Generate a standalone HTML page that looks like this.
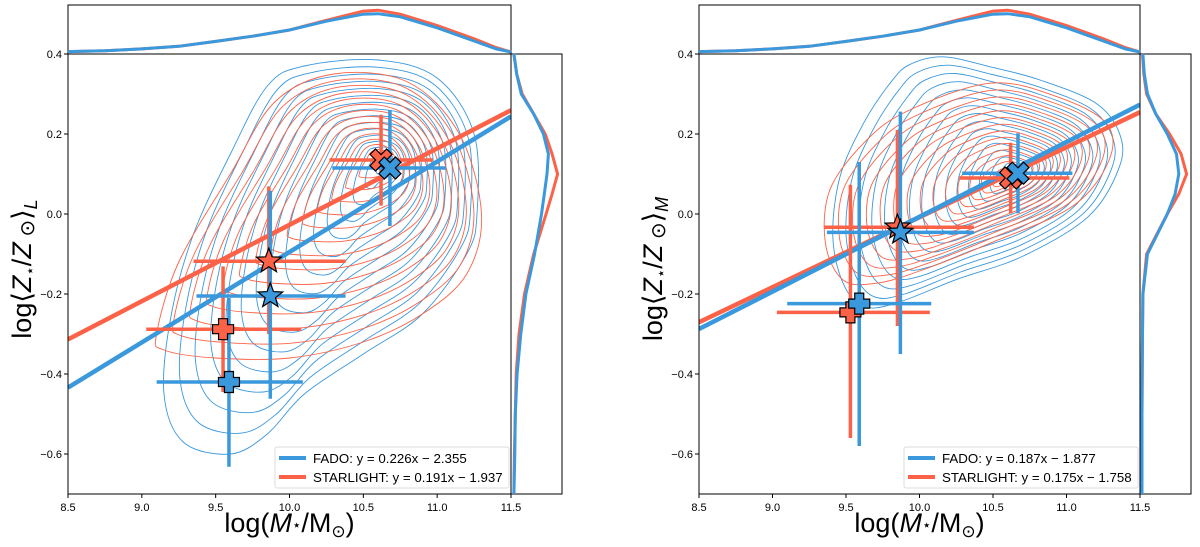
<!DOCTYPE html>
<html><head><meta charset="utf-8">
<style>
html,body{margin:0;padding:0;background:#fff;width:1200px;height:547px;overflow:hidden}
svg{display:block;font-family:"Liberation Sans","DejaVu Sans",sans-serif}
</style></head>
<body>
<svg id="chart" width="1200" height="547" viewBox="0 0 1200 547"></svg>
<script>
const BLUE="#3a98dc", RED="#fb6247";
const xTicks=[8.5,9.0,9.5,10.0,10.5,11.0,11.5];
const xTickLabels=["8.5","9.0","9.5","10.0","10.5","11.0","11.5"];
const yTicks=[0.4,0.2,0.0,-0.2,-0.4,-0.6];
const yTickLabels=["0.4","0.2","0.0","\u22120.2","\u22120.4","\u22120.6"];
const seriesNames=["FADO","STARLIGHT"];
// Left panel (light-weighted)
const L_fit_slope=[0.226,0.191];
const L_fit_icpt=[-2.355,-1.937];
const L_legend=["FADO: y = 0.226x \u2212 2.355","STARLIGHT: y = 0.191x \u2212 1.937"];
const L_fado_pts=[[10.68,0.115,10.29,11.06,-0.03,0.26,"x"],[9.87,-0.205,9.37,10.38,-0.462,0.058,"star"],[9.59,-0.42,9.10,10.09,-0.632,-0.21,"plus"]];
const L_star_pts=[[10.62,0.135,10.27,10.97,0.021,0.248,"x"],[9.86,-0.118,9.35,10.38,-0.30,0.069,"star"],[9.55,-0.288,9.03,10.08,-0.445,-0.131,"plus"]];
const L_fado_outer=[[9.6,-0.6],[9.28,-0.57],[9.15,-0.45],[9.2,-0.25],[9.35,-0.05],[9.6,0.15],[9.85,0.32],[10.1,0.37],[10.6,0.385],[11.0,0.34],[11.25,0.2],[11.27,0.0],[11.2,-0.1],[10.9,-0.25],[10.5,-0.35],[10.1,-0.45],[9.85,-0.55]];
const L_star_outer=[[9.1,-0.3],[9.25,-0.12],[9.6,0.1],[9.9,0.28],[10.3,0.35],[10.8,0.33],[11.15,0.2],[11.3,0.0],[11.2,-0.15],[10.9,-0.25],[10.5,-0.32],[10.0,-0.36],[9.5,-0.36],[9.15,-0.34]];
const L_fado_center=[10.65,0.13], L_star_center=[10.62,0.14];
const histX=[8.5,8.75,9.0,9.25,9.5,9.75,10.0,10.25,10.5,10.6,10.75,11.0,11.25,11.4,11.5];
const L_fado_histX=[0.01,0.03,0.07,0.13,0.24,0.36,0.5,0.7,0.86,0.87,0.8,0.55,0.25,0.07,0];
const L_star_histX=[0.01,0.03,0.07,0.13,0.24,0.36,0.5,0.72,0.93,0.95,0.86,0.6,0.3,0.1,0];
const histY=[0.4,0.35,0.3,0.25,0.2,0.15,0.1,0.05,0.0,-0.1,-0.2,-0.3,-0.4,-0.5,-0.6,-0.7];
const L_fado_histY=[0.02,0.08,0.18,0.45,0.66,0.77,0.74,0.68,0.62,0.47,0.28,0.17,0.09,0.05,0.04,0.02];
const L_star_histY=[0.02,0.08,0.2,0.45,0.7,0.85,0.97,0.85,0.72,0.45,0.25,0.13,0.07,0.05,0.03,0.02];
// Right panel (mass-weighted)
const R_fit_slope=[0.187,0.175];
const R_fit_icpt=[-1.877,-1.758];
const R_legend=["FADO: y = 0.187x \u2212 1.877","STARLIGHT: y = 0.175x \u2212 1.758"];
const R_fado_pts=[[10.67,0.102,10.29,11.04,0.002,0.202,"x"],[9.87,-0.046,9.37,10.37,-0.35,0.256,"star"],[9.59,-0.224,9.10,10.08,-0.58,0.13,"plus"]];
const R_star_pts=[[10.62,0.09,10.27,11.02,0.002,0.178,"x"],[9.85,-0.033,9.35,10.37,-0.28,0.21,"star"],[9.53,-0.246,9.03,10.07,-0.56,0.073,"plus"]];
const R_fado_outer=[[9.93,0.373],[9.8,0.327],[9.62,0.227],[9.46,0.094],[9.41,-0.056],[9.48,-0.173],[9.62,-0.231],[9.84,-0.223],[10.25,-0.164],[10.7,-0.106],[11.15,-0.006],[11.36,0.118],[11.36,0.202],[11.2,0.277],[10.82,0.335],[10.48,0.368],[10.16,0.393]];
const R_star_outer=[[9.36,-0.073],[9.39,0.06],[9.62,0.177],[9.91,0.256],[10.48,0.327],[10.93,0.294],[11.27,0.227],[11.29,0.135],[11.04,0.019],[10.48,-0.073],[10.02,-0.14],[9.71,-0.173],[9.48,-0.165]];
const R_fado_center=[10.66,0.1], R_star_center=[10.62,0.095];
const R_fado_histX=L_fado_histX, R_star_histX=L_star_histX;
const R_fado_histY=[0.02,0.05,0.12,0.3,0.55,0.75,0.8,0.72,0.55,0.12,0.02,0.01,0.005,0,0,0];
const R_star_histY=[0.01,0.04,0.1,0.3,0.6,0.85,0.97,0.8,0.55,0.1,0.02,0.01,0.005,0,0,0];

const svg=document.getElementById('chart');
const NS="http://www.w3.org/2000/svg";
function mk(tag,attrs,parent){const e=document.createElementNS(NS,tag);for(const k in attrs)e.setAttribute(k,attrs[k]);(parent||svg).appendChild(e);return e;}
function smooth(pts){let d="";const n=pts.length;for(let i=0;i<n;i++){const p0=pts[(i-1+n)%n],p1=pts[i],p2=pts[(i+1)%n],p3=pts[(i+2)%n];if(i===0)d+="M"+p1[0].toFixed(1)+","+p1[1].toFixed(1);const c1=[p1[0]+(p2[0]-p0[0])/6,p1[1]+(p2[1]-p0[1])/6],c2=[p2[0]-(p3[0]-p1[0])/6,p2[1]-(p3[1]-p1[1])/6];d+="C"+c1.map(v=>v.toFixed(1))+" "+c2.map(v=>v.toFixed(1))+" "+p2.map(v=>v.toFixed(1));}return d+"Z";}
function marker(g,type,cx,cy,color){let d;
 if(type==="x"){const a=4.5,b=11;d=`M${cx-b},${cy-b+a*1.2}L${cx-b+a*1.2},${cy-b}L${cx},${cy-a*1.2}L${cx+b-a*1.2},${cy-b}L${cx+b},${cy-b+a*1.2}L${cx+a*1.2},${cy}L${cx+b},${cy+b-a*1.2}L${cx+b-a*1.2},${cy+b}L${cx},${cy+a*1.2}L${cx-b+a*1.2},${cy+b}L${cx-b},${cy+b-a*1.2}L${cx-a*1.2},${cy}Z`;}
 else if(type==="plus"){const a=4.5,b=10.5;d=`M${cx-a},${cy-b}H${cx+a}V${cy-a}H${cx+b}V${cy+a}H${cx+a}V${cy+b}H${cx-a}V${cy+a}H${cx-b}V${cy-a}H${cx-a}Z`;}
 else {d="";for(let i=0;i<10;i++){const r=i%2?5.5:13,ang=-Math.PI/2+i*Math.PI/5;d+=(i?"L":"M")+(cx+r*Math.cos(ang)).toFixed(1)+","+(cy+r*Math.sin(ang)).toFixed(1);}d+="Z";}
 return mk('path',{d:d,fill:color,stroke:"#000","stroke-width":1.2},g);}

function panel(P){
 const x0=P.x0,x1=P.x1,yTop=54,yBot=494;
 const X=v=>x0+(v-8.5)/3*(x1-x0);
 const Y=v=>yTop+(0.4-v)/1.1*(yBot-yTop);
 const g=mk('g',{});
 const cp='clip'+P.name;const cl=mk('clipPath',{id:cp},g);mk('rect',{x:x0,y:yTop,width:x1-x0,height:yBot-yTop},cl);
 const plot=mk('g',{'clip-path':`url(#${cp})`},g);
 [[P.fOuter,P.fC,BLUE,16,'fado-contours'],[P.sOuter,P.sC,RED,15,'starlight-contours']].forEach(([outer,c,col,N,nm])=>{
  const cg=mk('g',{},plot);
  for(let k=0;k<N;k++){const t=Math.pow(1-k/N,1.15);const pts=outer.map(p=>[X(c[0]+t*(p[0]-c[0])),Y(c[1]+t*(p[1]-c[1]))]);
   const e=mk('path',{d:smooth(pts),fill:"none",stroke:col,"stroke-width":0.9},cg);}
 });
 [1,0].forEach(i=>{const col=i?RED:BLUE;const l=mk('line',{x1:X(8.5),y1:Y(P.slope[i]*8.5+P.icpt[i]),x2:X(11.5),y2:Y(P.slope[i]*11.5+P.icpt[i]),stroke:col,"stroke-width":4.5},plot);
  });
 [[P.sPts,RED,'starlight'],[P.fPts,BLUE,'fado']].forEach(([pts,col,nm])=>{pts.forEach(p=>{
  const eg=mk('g',{},plot);
  mk('line',{x1:X(p[2]),x2:X(p[3]),y1:Y(p[1]),y2:Y(p[1]),stroke:col,"stroke-width":3.5},eg);
  mk('line',{x1:X(p[0]),x2:X(p[0]),y1:Y(p[4]),y2:Y(p[5]),stroke:col,"stroke-width":3.5},eg);});});
 [[P.sPts,RED,'starlight'],[P.fPts,BLUE,'fado']].forEach(([pts,col,nm])=>{pts.forEach(p=>{
  const m=marker(plot,p[6],X(p[0]),Y(p[1]),col);});});
 const fr=mk('rect',{x:x0,y:yTop,width:x1-x0,height:yBot-yTop,fill:"none",stroke:"#000","stroke-width":1},g);
 const hx1=x1,hTop=5;
 const th=mk('g',{},g);
 mk('polyline',{points:`${x0},${yTop} ${x0},${hTop} ${hx1},${hTop} ${hx1},${yTop}`,fill:"none",stroke:"#000","stroke-width":1},th);
 [[P.sHX,RED],[P.fHX,BLUE]].forEach(([vals,col])=>{let pts=histX.map((v,i)=>`${X(v).toFixed(1)},${(yTop-2-vals[i]*44).toFixed(1)}`).join(' ');
  const pl=mk('polyline',{points:pts,fill:"none",stroke:col,"stroke-width":3},th);});
 const rx1=x1+51;
 const rh=mk('g',{},g);
 mk('polyline',{points:`${x1},${yTop} ${rx1},${yTop} ${rx1},${yBot} ${x1},${yBot}`,fill:"none",stroke:"#000","stroke-width":1},rh);
 [[P.sHY,RED],[P.fHY,BLUE]].forEach(([vals,col])=>{let pts=histY.map((v,i)=>`${(x1+2+vals[i]*46).toFixed(1)},${Y(v).toFixed(1)}`).join(' ');
  const pl=mk('polyline',{points:pts,fill:"none",stroke:col,"stroke-width":3},rh);});
 xTicks.forEach((v,i)=>{mk('line',{x1:X(v),x2:X(v),y1:yBot,y2:yBot+4,stroke:"#000"},g);
  const t=mk('text',{x:X(v),y:yBot+17,"font-size":11,"text-anchor":"middle"},g);t.textContent=xTickLabels[i];});
 yTicks.forEach((v,i)=>{mk('line',{x1:x0-4,x2:x0,y1:Y(v),y2:Y(v),stroke:"#000"},g);
  const t=mk('text',{x:x0-6,y:Y(v)+4,"font-size":11,"text-anchor":"end"},g);t.textContent=yTickLabels[i];});
 const xt=mk('text',{x:(x0+x1)/2,y:532,"font-size":27,"text-anchor":"middle"},g);
 xt.innerHTML='log(<tspan font-style="italic">M</tspan><tspan font-size="15" dy="-2">\u22C6</tspan><tspan dy="2">/M</tspan><tspan font-size="17" dy="5">\u2299</tspan><tspan dy="-5">)</tspan>';
 
 const yt=mk('text',{x:0,y:0,"font-size":27,"text-anchor":"middle",transform:`translate(${x0-37},${(yTop+yBot)/2-5}) rotate(-90)`},g);
 yt.innerHTML='log\u27E8<tspan font-style="italic">Z</tspan><tspan font-size="15" dy="4">\u22C6</tspan><tspan dy="-4">/</tspan><tspan font-style="italic">Z</tspan><tspan font-size="20" dy="3"> \u2299</tspan><tspan dy="-3">\u27E9</tspan><tspan font-size="18" font-style="italic" dy="6">'+P.sub+'</tspan>';
 
 const lg=mk('g',{});
 const lx=x1-236,ly=447;
 mk('rect',{x:lx,y:ly,width:234,height:41,rx:2,fill:"#fff","fill-opacity":0.85,stroke:"#ddd"},lg);
 [0,1].forEach(i=>{const col=i?RED:BLUE;const e=mk('g',{},lg);
  mk('line',{x1:lx+4,x2:lx+31,y1:ly+11+i*19,y2:ly+11+i*19,stroke:col,"stroke-width":4},e);
  const t=mk('text',{x:lx+38,y:ly+16+i*19,"font-size":13.3},e);t.textContent=P.legend[i];});
}
panel({name:'left-panel',x0:68,x1:511,sub:'L',slope:L_fit_slope,icpt:L_fit_icpt,legend:L_legend,fPts:L_fado_pts,sPts:L_star_pts,fOuter:L_fado_outer,sOuter:L_star_outer,fC:L_fado_center,sC:L_star_center,fHX:L_fado_histX,sHX:L_star_histX,fHY:L_fado_histY,sHY:L_star_histY});
panel({name:'right-panel',x0:699,x1:1140,sub:'M',slope:R_fit_slope,icpt:R_fit_icpt,legend:R_legend,fPts:R_fado_pts,sPts:R_star_pts,fOuter:R_fado_outer,sOuter:R_star_outer,fC:R_fado_center,sC:R_star_center,fHX:R_fado_histX,sHX:R_star_histX,fHY:R_fado_histY,sHY:R_star_histY});
</script>
</body></html>
